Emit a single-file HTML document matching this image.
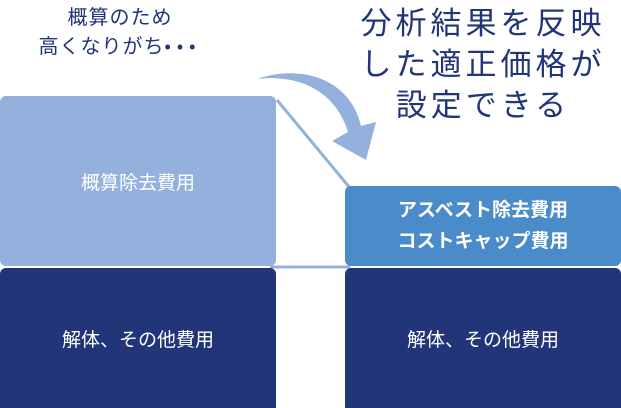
<!DOCTYPE html>
<html><head><meta charset="utf-8"><style>
body{margin:0;width:621px;height:408px;position:relative;background:#fff;font-family:"Liberation Sans","Noto Sans CJK JP",sans-serif;overflow:hidden}
.t{position:absolute;white-space:nowrap;text-align:center}
.b{position:absolute;display:flex;align-items:center;justify-content:center;color:#fff;text-align:center}
</style></head><body>
<svg width="621" height="408" style="position:absolute;left:0;top:0">
<line x1="277" y1="100" x2="350" y2="188" stroke="#93b1dc" stroke-width="3"/>
<line x1="270" y1="267" x2="350" y2="267" stroke="#93b1dc" stroke-width="3"/>
<path d="M257,79 C300,64 350,78 361,126 L376,122 L366,160 L332,141 L348,132 C336,92 300,74 257,79 Z" fill="#93b1dc"/>
</svg>
<div class="b" style="left:0;top:96px;width:276px;height:170px;background:#93b1dc;border-radius:6px;font-size:19px">概算除去費用</div>
<div class="b" style="left:345px;top:186px;width:276px;height:80px;background:#4a8bc9;border-radius:6px;font-size:19px;font-weight:bold;line-height:31px">アスベスト除去費用<br>コストキャップ費用</div>
<div class="b" style="left:0;top:268px;width:276px;height:140px;background:#213578;border-radius:6px 6px 0 0;font-size:19px">解体、その他費用</div>
<div class="b" style="left:345px;top:268px;width:276px;height:140px;background:#213578;border-radius:6px 6px 0 0;font-size:19px">解体、その他費用</div>
<div class="t" style="left:25px;top:4px;width:190px;font-size:20px;color:#213578;line-height:29px;letter-spacing:1px">概算のため<br>高くなりがち<span style="letter-spacing:6px;font-size:18px">•••</span></div>
<div class="t" style="left:345px;top:3px;width:276px;font-size:31px;color:#213578;line-height:41px;letter-spacing:4px">分析結果を反映<br>した適正価格が<br>設定できる</div>
</body></html>
